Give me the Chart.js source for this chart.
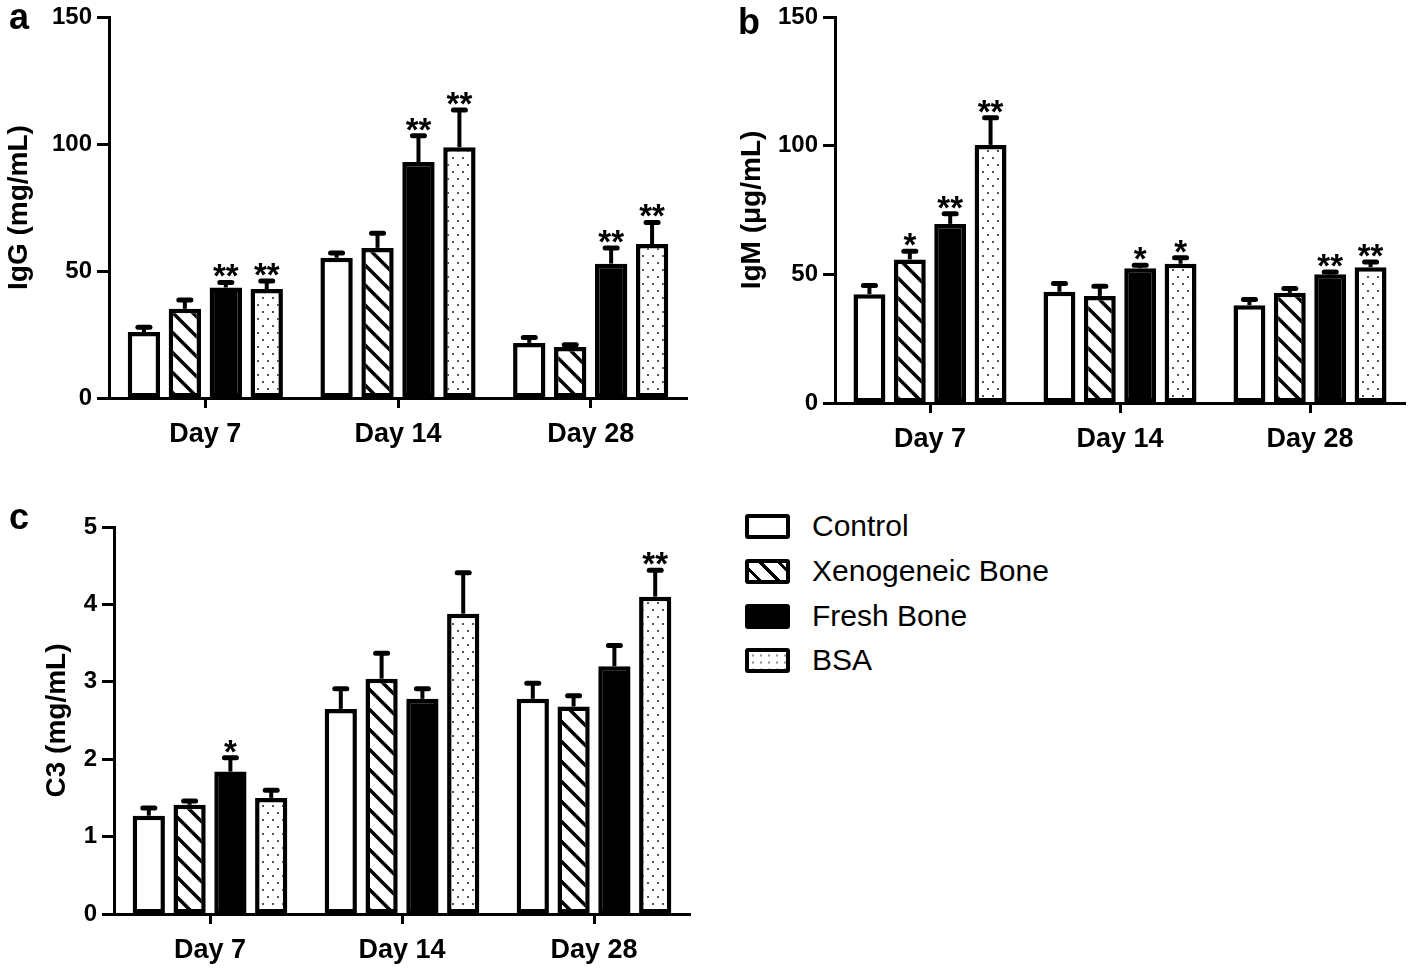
<!DOCTYPE html>
<html>
<head>
<meta charset="utf-8">
<script src="https://cdn.jsdelivr.net/npm/chart.js@4.4.0/dist/chart.umd.min.js"></script>
<style>
  html, body { margin: 0; padding: 0; background: #fff; }
  body { width: 1418px; height: 973px; position: relative; overflow: hidden; font-family: "Liberation Sans", Arial, sans-serif; }
  canvas { position: absolute; }
  .plabel { position: absolute; font-weight: bold; font-size: 36px; line-height: 36px; color: #000; }
  .legend { position: absolute; left: 745px; top: 500px; }
  .lrow { position: absolute; left: 0; height: 25px; width: 400px; }
  .sw { position: absolute; left: 0; top: 0; width: 45px; height: 25px; box-sizing: border-box; border: 4px solid #000; border-radius: 3px; background: #fff; }
  .ltxt { position: absolute; left: 67px; top: -4px; font-size: 30px; line-height: 32px; color: #000; white-space: nowrap; }
</style>
</head>
<body>
<canvas id="ca" width="720" height="470" style="left:0px;top:0px;width:720px;height:470px"></canvas>
<canvas id="cb" width="698" height="470" style="left:720px;top:0px;width:698px;height:470px"></canvas>
<canvas id="cc" width="720" height="493" style="left:0px;top:480px;width:720px;height:493px"></canvas>

<div class="plabel" style="left:9px;top:-1px">a</div>
<div class="plabel" style="left:738px;top:4px">b</div>
<div class="plabel" style="left:9px;top:499px">c</div>

<div class="legend">
  <div class="lrow" style="top:14px"><div class="sw"></div><div class="ltxt">Control</div></div>
  <div class="lrow" style="top:59px"><div class="sw" style="background: repeating-linear-gradient(45deg, #fff 0px, #fff 6px, #000 6px, #000 9px, #fff 9px, #fff 13px);"></div><div class="ltxt">Xenogeneic Bone</div></div>
  <div class="lrow" style="top:104px"><div class="sw" style="background:#000"></div><div class="ltxt">Fresh Bone</div></div>
  <div class="lrow" style="top:148px"><div class="sw" style="background-color:#fff; background-image: radial-gradient(circle, #999 1px, transparent 1.3px); background-size: 8px 7px;"></div><div class="ltxt">BSA</div></div>
</div>

<script>
// ---------- Data ----------
const categories = ['Day 7', 'Day 14', 'Day 28'];
const groupNames = ['Control', 'Xenogeneic Bone', 'Fresh Bone', 'BSA'];

// Panel a: IgG (mg/mL)
const iggControl = [26.0, 55.2, 21.7];
const iggXeno    = [35.1, 59.1, 20.1];
const iggFresh   = [43.5, 92.9, 52.9];
const iggBSA     = [42.9, 98.7, 60.6];
const iggControlErr = [1.9, 1.9, 2.1];
const iggXenoErr    = [3.5, 5.8, 0.9];
const iggFreshErr   = [2.0, 10.3, 6.2];
const iggBSAErr     = [3.2, 14.7, 8.5];
const iggControlSig = ['', '', ''];
const iggXenoSig    = ['', '', ''];
const iggFreshSig   = ['**', '**', '**'];
const iggBSASig     = ['**', '**', '**'];

// Panel b: IgM (μg/mL)
const igmControl = [42.3, 43.2, 38.0];
const igmXeno    = [55.8, 41.6, 42.8];
const igmFresh   = [69.6, 52.4, 50.0];
const igmBSA     = [100.3, 54.1, 52.8];
const igmControlErr = [3.4, 3.2, 2.2];
const igmXenoErr    = [3.2, 3.8, 1.7];
const igmFreshErr   = [3.9, 1.1, 0.9];
const igmBSAErr     = [10.5, 2.3, 2.0];
const igmControlSig = ['', '', ''];
const igmXenoSig    = ['*', '', ''];
const igmFreshSig   = ['**', '*', '**'];
const igmBSASig     = ['**', '*', '**'];

// Panel c: C3 (mg/mL)
const c3Control = [1.27, 2.65, 2.78];
const c3Xeno    = [1.41, 3.04, 2.68];
const c3Fresh   = [1.84, 2.78, 3.20];
const c3BSA     = [1.50, 3.88, 4.10];
const c3ControlErr = [0.10, 0.26, 0.20];
const c3XenoErr    = [0.05, 0.33, 0.14];
const c3FreshErr   = [0.18, 0.13, 0.27];
const c3BSAErr     = [0.10, 0.53, 0.34];
const c3ControlSig = ['', '', ''];
const c3XenoSig    = ['', '', ''];
const c3FreshSig   = ['*', '', ''];
const c3BSASig     = ['', '', '**'];

const igTicks = [0, 50, 100, 150];
const c3Ticks = [0, 1, 2, 3, 4, 5];

// ---------- Styles ----------
const FONT = '"Liberation Sans", Arial, Helvetica, sans-serif';

function hatchPattern() {
  const s = 20;
  const c = document.createElement('canvas');
  c.width = s; c.height = s;
  const x = c.getContext('2d');
  x.fillStyle = '#fff'; x.fillRect(0, 0, s, s);
  x.strokeStyle = '#000'; x.lineWidth = 3.5;
  x.beginPath();
  x.moveTo(-5, -5); x.lineTo(s + 5, s + 5);
  x.moveTo(-5, s - 5); x.lineTo(5, s + 5);
  x.moveTo(s - 5, -5); x.lineTo(s + 5, 5);
  x.stroke();
  return x.createPattern(c, 'repeat');
}
function dotPattern() {
  const w = 10, h = 14;
  const c = document.createElement('canvas');
  c.width = w; c.height = h;
  const x = c.getContext('2d');
  x.fillStyle = '#fff'; x.fillRect(0, 0, w, h);
  x.fillStyle = '#555';
  x.fillRect(2, 3, 2, 2);
  x.fillRect(7, 10, 2, 2);
  return x.createPattern(c, 'repeat');
}

const errorBarPlugin = {
  id: 'errorBars',
  afterDatasetsDraw(chart) {
    const ctx = chart.ctx;
    const yScale = chart.scales.y;
    chart.data.datasets.forEach((ds, di) => {
      const meta = chart.getDatasetMeta(di);
      meta.data.forEach((bar, i) => {
        const v = ds.data[i];
        const e = ds.errors[i];
        const yBar = yScale.getPixelForValue(v);
        const yTop = yScale.getPixelForValue(v + e);
        ctx.save();
        ctx.strokeStyle = '#000';
        ctx.lineWidth = 4;
        ctx.beginPath();
        ctx.moveTo(bar.x, yBar);
        ctx.lineTo(bar.x, yTop);
        ctx.stroke();
        ctx.lineCap = 'round';
        ctx.lineWidth = 5;
        ctx.beginPath();
        ctx.moveTo(bar.x - 6, yTop);
        ctx.lineTo(bar.x + 6, yTop);
        ctx.stroke();
        const s = ds.stars[i];
        if (s) {
          ctx.fillStyle = '#000';
          ctx.font = 'bold 33px ' + FONT;
          ctx.textAlign = 'center';
          ctx.textBaseline = 'alphabetic';
          ctx.fillText(s, bar.x, yTop + 5);
        }
        ctx.restore();
      });
    });
  }
};

function makeChart(id, cfg) {
  const ctx = document.getElementById(id).getContext('2d');
  const fills = ['#ffffff', hatchPattern(), '#000000', dotPattern()];
  const datasets = cfg.series.map((s, k) => ({
    label: groupNames[k],
    data: s.values,
    errors: s.errors,
    stars: s.stars,
    backgroundColor: fills[k],
    borderColor: '#000',
    borderWidth: 4.5,
    borderSkipped: false,
    categoryPercentage: 0.85,
    barPercentage: 0.79
  }));
  return new Chart(ctx, {
    type: 'bar',
    data: { labels: categories, datasets },
    plugins: [errorBarPlugin],
    options: {
      responsive: false,
      maintainAspectRatio: false,
      animation: false,
      devicePixelRatio: 1,
      layout: { padding: cfg.padding },
      plugins: { legend: { display: false }, tooltip: { enabled: false } },
      scales: {
        x: {
          offset: true,
          grid: { offset: false, drawOnChartArea: false, drawTicks: true, tickLength: 10, tickWidth: 3, tickColor: '#000', color: '#000' },
          border: { display: true, width: 3, color: '#000' },
          ticks: { color: '#000', font: { family: FONT, size: 27, weight: 'bold' }, padding: 10, maxRotation: 0 },
          afterFit: (sc) => { sc.height = cfg.xHeight; }
        },
        y: {
          min: cfg.ticks[0],
          max: cfg.ticks[cfg.ticks.length - 1],
          afterBuildTicks: (sc) => { sc.ticks = cfg.ticks.map(v => ({ value: v })); },
          grid: { drawOnChartArea: false, drawTicks: true, tickLength: 12, tickWidth: 3, tickColor: '#000', color: '#000' },
          border: { display: true, width: 3, color: '#000' },
          ticks: { color: '#000', font: { family: FONT, size: 24, weight: 'bold', lineHeight: 1 }, padding: 5 },
          title: { display: true, text: cfg.title, color: '#000', font: { family: FONT, size: 28, weight: 'bold' }, padding: { top: cfg.titlePad, bottom: 0 } },
          afterFit: (sc) => { sc.width = cfg.yWidth; }
        }
      }
    }
  });
}

makeChart('ca', {
  title: 'IgG (mg/mL)',
  ticks: igTicks,
  padding: { left: 0, top: 13, right: 33, bottom: 12 },
  xHeight: 60, yWidth: 109, titlePad: 2,
  series: [
    { values: iggControl, errors: iggControlErr, stars: iggControlSig },
    { values: iggXeno, errors: iggXenoErr, stars: iggXenoSig },
    { values: iggFresh, errors: iggFreshErr, stars: iggFreshSig },
    { values: iggBSA, errors: iggBSAErr, stars: iggBSASig }
  ]
});

makeChart('cb', {
  title: 'IgM (μg/mL)',
  ticks: igTicks,
  padding: { left: 0, top: 13, right: 13, bottom: 7 },
  xHeight: 60, yWidth: 115, titlePad: 15,
  series: [
    { values: igmControl, errors: igmControlErr, stars: igmControlSig },
    { values: igmXeno, errors: igmXenoErr, stars: igmXenoSig },
    { values: igmFresh, errors: igmFreshErr, stars: igmFreshSig },
    { values: igmBSA, errors: igmBSAErr, stars: igmBSASig }
  ]
});

makeChart('cc', {
  title: 'C3 (mg/mL)',
  ticks: c3Ticks,
  padding: { left: 0, top: 47, right: 30, bottom: 4 },
  xHeight: 55, yWidth: 114, titlePad: 40,
  series: [
    { values: c3Control, errors: c3ControlErr, stars: c3ControlSig },
    { values: c3Xeno, errors: c3XenoErr, stars: c3XenoSig },
    { values: c3Fresh, errors: c3FreshErr, stars: c3FreshSig },
    { values: c3BSA, errors: c3BSAErr, stars: c3BSASig }
  ]
});
</script>
</body>
</html>
